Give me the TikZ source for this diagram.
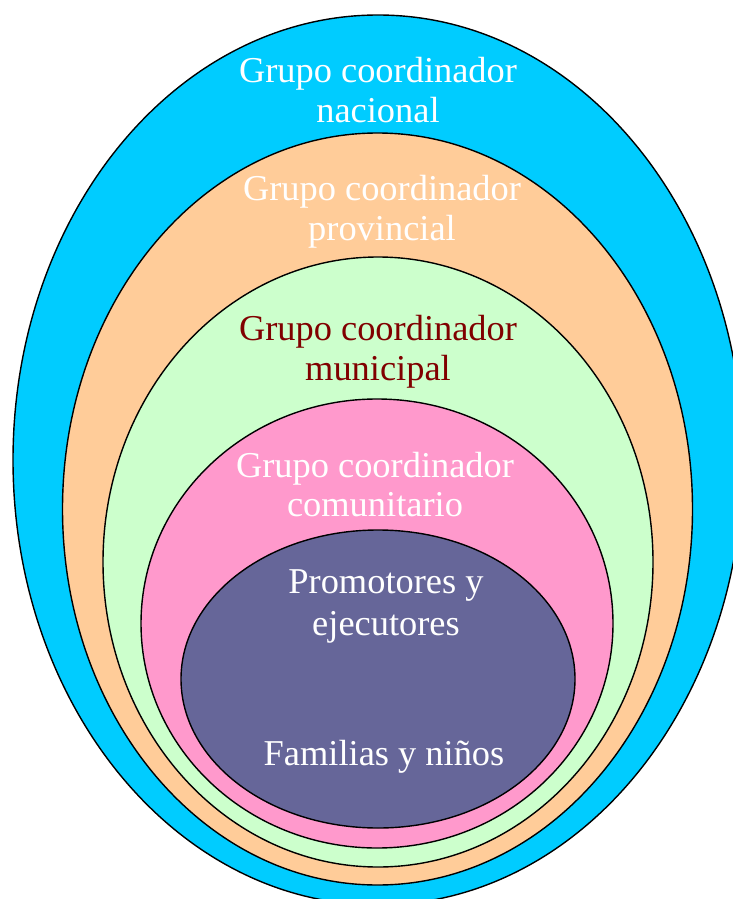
\documentclass[tikz,border=0pt]{standalone}
\usepackage{fontspec}
\setmainfont{Liberation Serif}
\definecolor{cblue}{HTML}{00CCFF}
\definecolor{corange}{HTML}{FFCC99}
\definecolor{cgreen}{HTML}{CCFFCC}
\definecolor{cpink}{HTML}{FF99CC}
\definecolor{cpurple}{HTML}{666699}
\definecolor{cmaroon}{HTML}{800000}
\tikzset{
  ring/.style={draw=black, line width=1.4pt},
  lbl/.style={anchor=base, inner sep=0pt, font=\fontsize{36.4}{40}\selectfont, text=white}
}
\begin{document}
\begin{tikzpicture}[x=1pt,y=-1pt]
\useasboundingbox (0,0) rectangle (733,899);
\clip (0,0) rectangle (733,899);
\fill[white] (0,0) rectangle (733,899);
\path[ring, fill=cblue]   (378,460) ellipse [x radius=365pt, y radius=445pt];
\path[ring, fill=corange] (377.5,509) ellipse [x radius=315pt, y radius=376pt];
\path[ring, fill=cgreen]  (378,562) ellipse [x radius=275pt, y radius=305pt];
\path[ring, fill=cpink]   (377,623.5) ellipse [x radius=236pt, y radius=224.5pt];
\path[ring, fill=cpurple] (378,679) ellipse [x radius=197pt, y radius=149pt];
\node[lbl] (n1) at (378,82) {Grupo coordinador};
\node[lbl] (n2) at (378,122) {nacional};
\node[lbl] (p1) at (382,200) {Grupo coordinador};
\node[lbl] (p2) at (382,240) {provincial};
\node[lbl, text=cmaroon] (m1) at (378,340) {Grupo coordinador};
\node[lbl, text=cmaroon] (m2) at (378,380) {municipal};
\node[lbl] (c1) at (375,477) {Grupo coordinador};
\node[lbl] (c2) at (375,516) {comunitario};
\node[lbl] (e1) at (386,593) {Promotores y};
\node[lbl] (e2) at (386,635) {ejecutores};
\node[lbl] (f1) at (384,765) {Familias y niños};
\end{tikzpicture}
\end{document}
